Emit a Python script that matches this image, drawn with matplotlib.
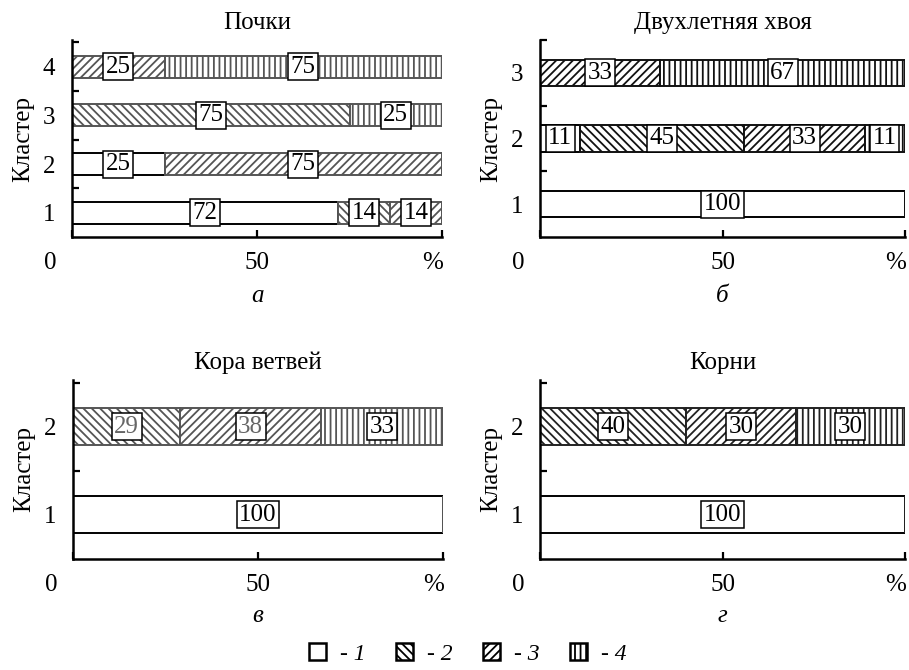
import matplotlib
matplotlib.use("Agg")
import matplotlib.pyplot as plt
from matplotlib.patches import Patch
from matplotlib.transforms import ScaledTranslation
import numpy as np

plt.rcParams['font.family'] = ['Liberation Serif', 'DejaVu Serif']
plt.rcParams['hatch.linewidth'] = 1.3

# values: rows = category 1..4, columns = clusters
POCHKI_CLUSTERS = [1, 2, 3, 4]
POCHKI = [[72, 25, 0, 0],
          [14, 0, 75, 0],
          [14, 75, 0, 25],
          [0, 0, 25, 75]]

HVOYA_CLUSTERS = [1, 2, 3]
HVOYA = [[100, 11, 0],
         [0, 45, 0],
         [0, 33, 33],
         [0, 11, 67]]

KORA_CLUSTERS = [1, 2]
KORA = [[100, 0],
        [0, 29],
        [0, 38],
        [0, 33]]

KORNI_CLUSTERS = [1, 2]
KORNI = [[100, 0],
         [0, 40],
         [0, 30],
         [0, 30]]

TITLES = ["Почки", "Двухлетняя хвоя", "Кора ветвей", "Корни"]
LETTERS = ["а", "б", "в", "г"]
LEGEND_LABELS = ["- 1", "- 2", "- 3", "- 4"]

HATCHES = ["", "\\\\\\\\", "////", "|||"]
FS = 18

W, H = 909, 670
fig = plt.figure(figsize=(W / 100, H / 100), dpi=100)


def px_axes(x0, y0, x1, y1):
    return fig.add_axes([x0 / W, 1 - y1 / H, (x1 - x0) / W, (y1 - y0) / H])


def draw_panel(ax, clusters, vals, title, letter, hcolor, tcolors, height, top):
    left = np.zeros(len(clusters))
    for cat in range(4):
        v = np.array(vals[cat], dtype=float)
        ec = 'black' if cat == 0 else hcolor
        bars = ax.barh(clusters, v, left=left, height=height, color='white',
                       edgecolor=ec, hatch=HATCHES[cat], linewidth=1.4)
        labs = [str(int(x)) if x > 0 else "" for x in v]
        ax.bar_label(bars, labels=labs, label_type='center', fontsize=FS,
                     color=tcolors[cat],
                     bbox=dict(boxstyle='square,pad=0.1', fc='white',
                               ec='black', lw=1.1))
        left += v

    ax.set_xlim(0, 100)
    ax.set_ylim(0.5, top)
    for s in ['top', 'right']:
        ax.spines[s].set_visible(False)
    for s in ['left', 'bottom']:
        ax.spines[s].set_linewidth(1.8)

    ax.set_xticks([0, 50, 100])
    ax.set_xticklabels(["0", "50", "%"], fontsize=FS)
    ax.tick_params(axis='x', direction='in', length=5, width=1.6, pad=11)
    xl = ax.get_xticklabels()
    xl[0].set_transform(xl[0].get_transform() +
                        ScaledTranslation(-16 / 72, 0, fig.dpi_scale_trans))
    xl[2].set_transform(xl[2].get_transform() +
                        ScaledTranslation(-7 / 72, 0, fig.dpi_scale_trans))

    ax.set_yticks(clusters)
    ax.set_yticklabels([str(c) for c in clusters], fontsize=FS)
    ax.set_yticks([c + 0.5 for c in clusters], minor=True)
    ax.tick_params(axis='y', which='major', length=0, pad=12)
    ax.tick_params(axis='y', which='minor', direction='in', length=5, width=1.6)
    ax.set_ylabel("Кластер", fontsize=FS, labelpad=6)

    ax.set_title(title, fontsize=FS, pad=8)
    ax.text(0.5, -0.3 if top > 3 else -0.32, letter, transform=ax.transAxes,
            ha='center', va='center', fontsize=FS, style='italic')


ax1 = px_axes(72, 40, 442, 237)
ax2 = px_axes(540, 40, 905, 237)
ax3 = px_axes(73, 380, 443, 559)
ax4 = px_axes(540, 380, 905, 559)

BLACK4 = ['black'] * 4
draw_panel(ax1, POCHKI_CLUSTERS, POCHKI, TITLES[0], LETTERS[0], '#555555', BLACK4, 0.45, 4.55)
draw_panel(ax2, HVOYA_CLUSTERS, HVOYA, TITLES[1], LETTERS[1], '#111111', BLACK4, 0.4, 3.5)
draw_panel(ax3, KORA_CLUSTERS, KORA, TITLES[2], LETTERS[2], '#555555',
           ['black', '#666666', '#666666', 'black'], 0.42, 2.53)
draw_panel(ax4, KORNI_CLUSTERS, KORNI, TITLES[3], LETTERS[3], '#222222', BLACK4, 0.42, 2.53)

handles = [Patch(facecolor='white', edgecolor='black', hatch=h, linewidth=1.8)
           for h in HATCHES]
fig.legend(handles, LEGEND_LABELS, loc='center', bbox_to_anchor=(0.515, 0.024),
           ncol=4, frameon=False, handlelength=0.7, handleheight=0.7,
           columnspacing=1.3, handletextpad=0.6,
           prop=dict(family=['Liberation Serif'], style='italic', size=17))

fig.savefig("out.png", dpi=100)
